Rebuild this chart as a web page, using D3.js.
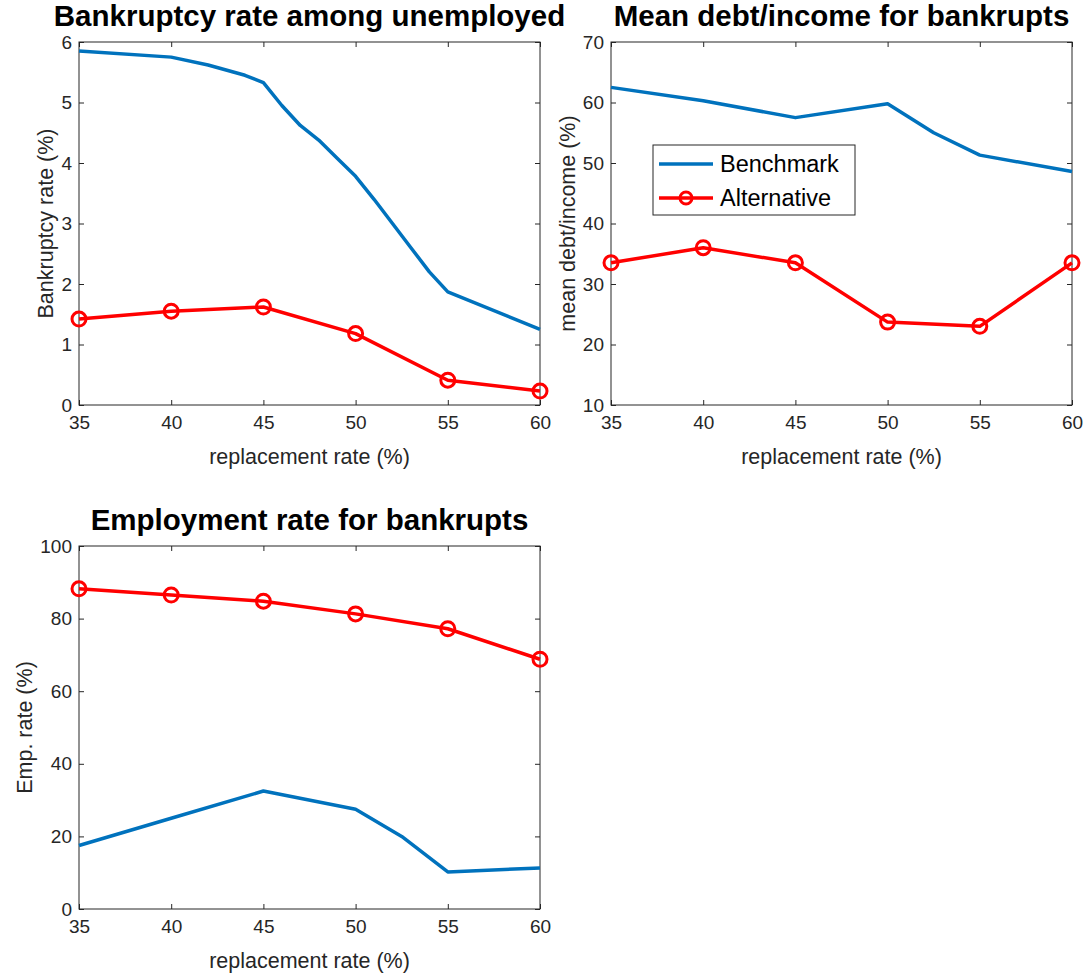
<!DOCTYPE html>
<html><head><meta charset="utf-8">
<script src="https://cdn.jsdelivr.net/npm/d3@7"></script>
<style>body{margin:0;background:#fff}svg{display:block}</style>
</head><body>
<svg id="c" width="1089" height="975"></svg>
<script>
// ---- data ----
const xTicks = [35, 40, 45, 50, 55, 60];
// Panel 1: Bankruptcy rate among unemployed
const p1BenchX = [35, 40, 42, 44, 45, 46, 47, 48, 49, 50, 51, 52, 53, 54, 55, 60];
const p1BenchY = [5.85, 5.75, 5.62, 5.45, 5.33, 4.95, 4.62, 4.38, 4.08, 3.78, 3.4, 3.0, 2.6, 2.2, 1.87, 1.25];
const p1AltX = [35, 40, 45, 50, 55, 60];
const p1AltY = [1.42, 1.55, 1.62, 1.18, 0.41, 0.23];
const p1YTicks = [0, 1, 2, 3, 4, 5, 6];
// Panel 2: Mean debt/income for bankrupts
const p2BenchX = [35, 40, 45, 50, 52.5, 55, 60];
const p2BenchY = [62.5, 60.3, 57.5, 59.8, 55.0, 51.3, 48.6];
const p2AltX = [35, 40, 45, 50, 55, 60];
const p2AltY = [33.5, 36.0, 33.5, 23.7, 23.0, 33.5];
const p2YTicks = [10, 20, 30, 40, 50, 60, 70];
// Panel 3: Employment rate for bankrupts
const p3BenchX = [35, 40, 45, 50, 52.5, 55, 60];
const p3BenchY = [17.5, 25.0, 32.5, 27.5, 20.0, 10.2, 11.3];
const p3AltX = [35, 40, 45, 50, 55, 60];
const p3AltY = [88.2, 86.5, 84.8, 81.3, 77.2, 68.8];
const p3YTicks = [0, 20, 40, 60, 80, 100];

const titles = ["Bankruptcy rate among unemployed", "Mean debt/income for bankrupts", "Employment rate for bankrupts"];
const yLabels = ["Bankruptcy rate (%)", "mean debt/income (%)", "Emp. rate (%)"];
const xLabel = "replacement rate (%)";
const legendLabels = ["Benchmark", "Alternative"];

const BLUE = "#0072BD", RED = "#FF0000", AX = "#262626";
const FONT = "'Liberation Sans', Arial, sans-serif";
const TICKFS = 19, LABFS = 21.5, TITLEFS = 29.5;
const svg = d3.select("#c");

function panel(box, yDom, yTicks, bx, by, ax, ay, title, ylab, legend) {
  const x = d3.scaleLinear().domain([35, 60]).range([box.l, box.r]);
  const y = d3.scaleLinear().domain(yDom).range([box.b, box.t]);
  const g = svg.append("g");
  const tl = 5;
  const fmt = d3.format("d");
  const gx = g.append("g").attr("transform", `translate(0,${box.b})`)
    .call(d3.axisBottom(x).tickValues(xTicks).tickFormat(fmt).tickSizeInner(-tl).tickSizeOuter(0).tickPadding(11));
  const gxt = g.append("g").attr("transform", `translate(0,${box.t})`)
    .call(d3.axisTop(x).tickValues(xTicks).tickSizeInner(-tl).tickSizeOuter(0).tickFormat(""));
  const gy = g.append("g").attr("transform", `translate(${box.l},0)`)
    .call(d3.axisLeft(y).tickValues(yTicks).tickFormat(fmt).tickSizeInner(-tl).tickSizeOuter(0).tickPadding(7));
  const gyr = g.append("g").attr("transform", `translate(${box.r},0)`)
    .call(d3.axisRight(y).tickValues(yTicks).tickSizeInner(-tl).tickSizeOuter(0).tickFormat(""));
  [gx, gxt, gy, gyr].forEach(a => {
    a.select(".domain").remove();
    a.selectAll("line").attr("stroke", AX);
    a.selectAll("text").attr("font-family", FONT).attr("font-size", TICKFS).attr("fill", AX);
  });
  g.append("rect").attr("x", box.l).attr("y", box.t).attr("width", box.r - box.l).attr("height", box.b - box.t)
    .attr("fill", "none").attr("stroke", AX).attr("stroke-width", 1);
  const line = d3.line().x(d => x(d[0])).y(d => y(d[1]));
  g.append("path").datum(bx.map((v, i) => [v, by[i]])).attr("d", line)
    .attr("fill", "none").attr("stroke", BLUE).attr("stroke-width", 3.5).attr("stroke-linejoin", "round");
  g.append("path").datum(ax.map((v, i) => [v, ay[i]])).attr("d", line)
    .attr("fill", "none").attr("stroke", RED).attr("stroke-width", 3.5).attr("stroke-linejoin", "round");
  g.selectAll("circle.m").data(ax.map((v, i) => [v, ay[i]])).enter().append("circle")
    .attr("cx", d => x(d[0])).attr("cy", d => y(d[1])).attr("r", 7)
    .attr("fill", "none").attr("stroke", RED).attr("stroke-width", 3);
  g.append("text").attr("x", (box.l + box.r) / 2).attr("y", box.t - 16).attr("text-anchor", "middle")
    .attr("font-family", FONT).attr("font-size", TITLEFS).attr("font-weight", "bold").attr("fill", "#000").text(title);
  g.append("text").attr("x", (box.l + box.r) / 2).attr("y", box.b + 59).attr("text-anchor", "middle")
    .attr("font-family", FONT).attr("font-size", LABFS).attr("fill", AX).text(xLabel);
  let minX = box.l;
  gy.selectAll("text").each(function () { const b = this.getBBox(); minX = Math.min(minX, box.l + b.x); });
  g.append("text").attr("transform", `translate(${minX - 8},${(box.t + box.b) / 2}) rotate(-90)`)
    .attr("text-anchor", "middle").attr("font-family", FONT).attr("font-size", LABFS).attr("fill", AX).text(ylab);
  if (legend) {
    const lx = box.l + 42, ly = box.t + 103, lw = 202, lh = 70;
    const lg = g.append("g");
    lg.append("rect").attr("x", lx).attr("y", ly).attr("width", lw).attr("height", lh)
      .attr("fill", "#fff").attr("stroke", AX).attr("stroke-width", 1);
    const rows = [ly + 19, ly + 53];
    lg.append("line").attr("x1", lx + 6).attr("x2", lx + 60).attr("y1", rows[0]).attr("y2", rows[0])
      .attr("stroke", BLUE).attr("stroke-width", 3.5);
    lg.append("line").attr("x1", lx + 6).attr("x2", lx + 60).attr("y1", rows[1]).attr("y2", rows[1])
      .attr("stroke", RED).attr("stroke-width", 3.5);
    lg.append("circle").attr("cx", lx + 33).attr("cy", rows[1]).attr("r", 6)
      .attr("fill", "none").attr("stroke", RED).attr("stroke-width", 3);
    legendLabels.forEach((t, i) => lg.append("text").attr("x", lx + 67).attr("y", rows[i]).attr("dy", "0.35em")
      .attr("font-family", FONT).attr("font-size", 23.5).attr("fill", "#000").text(t));
  }
}

panel({l: 79, r: 540, t: 42, b: 405}, [0, 6], p1YTicks, p1BenchX, p1BenchY, p1AltX, p1AltY, titles[0], yLabels[0], false);
panel({l: 611, r: 1072, t: 42, b: 405}, [10, 70], p2YTicks, p2BenchX, p2BenchY, p2AltX, p2AltY, titles[1], yLabels[1], true);
panel({l: 79, r: 540, t: 546, b: 909}, [0, 100], p3YTicks, p3BenchX, p3BenchY, p3AltX, p3AltY, titles[2], yLabels[2], false);
</script>
</body></html>
